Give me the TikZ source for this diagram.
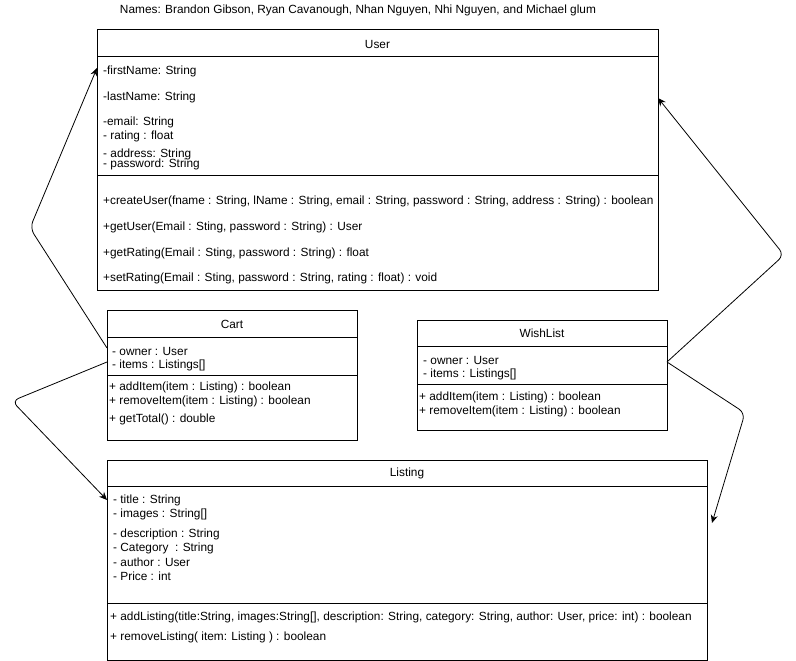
\documentclass[tikz,border=0pt]{standalone}
\usepackage{fontspec}
\setmainfont{Liberation Sans}
\usetikzlibrary{arrows.meta}
\newcommand{\umlfont}{\fontsize{11.85}{14}\selectfont}

\begin{document}
\begin{tikzpicture}[x=1pt,y=-1pt]
    \tikzset { classbox/.style = { shape=rectangle,draw,line width=1pt,inner sep=0pt,outer sep=0pt } }
    \tikzset { member/.style = { anchor=west,inner sep=0pt,yshift=-1pt,font=\umlfont } }
    \tikzset { header/.style = { inner sep=0pt,yshift=-0.5pt,font=\umlfont } }
    \tikzset { edge/.style = { line width=0.8pt,-{Stealth[length=8pt,width=7pt]},rounded corners=7pt } }

    \useasboundingbox (0,0) rectangle (796,661);

    \node[header] (names) at (358,10) {Names: Brandon Gibson, Ryan Cavanough, Nhan Nguyen, Nhi Nguyen, and Michael glum};

    % User
    \node[classbox,minimum width=561pt,minimum height=260pt] (clsUser) at (377.5,160) {};
    \node[header] (hdUser) at ([yshift=-13.5pt]clsUser.north) {User};
    \draw[line width=1pt] ([yshift=-27pt]clsUser.north west) -- ([yshift=-27pt]clsUser.north east);
    \draw[line width=1pt] ([yshift=-145pt]clsUser.north west) -- ([yshift=-145pt]clsUser.north east);
    \node[member] (uFirst) at (103,70) {-firstName: String};
    \node[member] (uLast) at (103,96) {-lastName: String};
    \node[member] (uEmail) at (103,121) {-email: String};
    \node[member] (uRating) at (103,135) {- rating : float};
    \node[member] (uAddr) at (103,153) {- address: String};
    \node[member] (uPass) at (103,163) {- password: String};
    \node[member] (uCreate) at (103,200) {+createUser(fname : String, lName : String, email : String, password : String, address : String) : boolean};
    \node[member] (uGet) at (103,226) {+getUser(Email : Sting, password : String) : User};
    \node[member] (uGetRating) at (103,252) {+getRating(Email : Sting, password : String) : float};
    \node[member] (uSetRating) at (103,277) {+setRating(Email : Sting, password : String, rating : float) : void};

    % Cart
    \node[classbox,minimum width=250pt,minimum height=130pt] (clsCart) at (232,375) {};
    \node[header] (hdCart) at ([yshift=-13.5pt]clsCart.north) {Cart};
    \draw[line width=1pt] ([yshift=-27pt]clsCart.north west) -- ([yshift=-27pt]clsCart.north east);
    \draw[line width=1pt] ([yshift=-65pt]clsCart.north west) -- ([yshift=-65pt]clsCart.north east);
    \node[member] (cOwner) at (112,350) {- owner : User};
    \node[member] (cItems) at (112,364) {- items : Listings[]};
    \node[member] (cAdd) at (109,386) {+ addItem(item : Listing) : boolean};
    \node[member] (cRemove) at (109,400) {+ removeItem(item : Listing) : boolean};
    \node[member] (cTotal) at (109,418) {+ getTotal() : double};

    % WishList
    \node[classbox,minimum width=250pt,minimum height=110pt] (clsWish) at (542,375) {};
    \node[header] (hdWish) at ([yshift=-13pt]clsWish.north) {WishList};
    \draw[line width=1pt] ([yshift=-26pt]clsWish.north west) -- ([yshift=-26pt]clsWish.north east);
    \draw[line width=1pt] ([yshift=-64pt]clsWish.north west) -- ([yshift=-64pt]clsWish.north east);
    \node[member] (wOwner) at (423,359) {- owner : User};
    \node[member] (wItems) at (423,373) {- items : Listings[]};
    \node[member] (wAdd) at (419,396) {+ addItem(item : Listing) : boolean};
    \node[member] (wRemove) at (419,410) {+ removeItem(item : Listing) : boolean};

    % Listing
    \node[classbox,minimum width=600pt,minimum height=200pt] (clsListing) at (407,560) {};
    \node[header] (hdListing) at ([yshift=-13pt]clsListing.north) {Listing};
    \draw[line width=1pt] ([yshift=-26pt]clsListing.north west) -- ([yshift=-26pt]clsListing.north east);
    \draw[line width=1pt] ([yshift=-143pt]clsListing.north west) -- ([yshift=-143pt]clsListing.north east);
    \node[member] (lTitle) at (113,499) {- title : String};
    \node[member] (lImages) at (113,513) {- images : String[]};
    \node[member] (lDesc) at (113,533) {- description : String};
    \node[member] (lCat) at (113,547) {- Category~ : String};
    \node[member] (lAuthor) at (113,561) {- author : User};
    \node[member] (lPrice) at (113,575) {- Price : int};
    \node[member] (lAdd) at (110,616) {+ addListing(title:String, images:String[], description: String, category: String, author: User, price: int) : boolean};
    \node[member] (lRemove) at (110,636) {+ removeListing( item: Listing ) : boolean};

    % connectors
    \coordinate (bendA) at (30,228);
    \coordinate (bendB) at (12,401);
    \coordinate (bendC) at (784,255);
    \coordinate (bendD) at (745,413);

    \draw[edge] ([yshift=27pt]clsCart.west) -- (bendA) -- ([yshift=92pt]clsUser.west);
    \draw[edge] ([yshift=13pt]clsCart.west) -- (bendB) -- ([yshift=60pt]clsListing.west);
    \draw[edge] ([yshift=13pt]clsWish.east) -- (bendC) -- ([yshift=62pt]clsUser.east);
    \draw[edge] ([yshift=13pt]clsWish.east) -- (bendD) -- ([xshift=5pt,yshift=37pt]clsListing.east);

  \end{tikzpicture}
\end{document}
